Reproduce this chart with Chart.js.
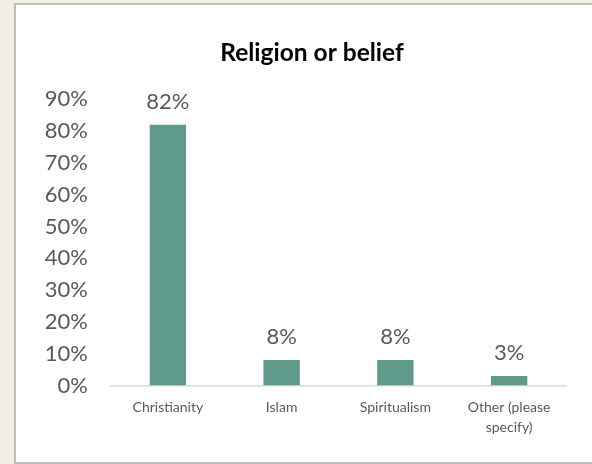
<!DOCTYPE html>
<html>
<head>
<meta charset="utf-8">
<script src="https://cdn.jsdelivr.net/npm/chart.js@4/dist/chart.umd.min.js"></script>
<style>
  html, body { margin: 0; padding: 0; width: 592px; height: 464px; overflow: hidden; background: #f4eee5; }
  #frame {
    position: absolute; left: 14px; top: 3px;
    width: 592px; height: 457px;
    border: 2px solid #bdbdbd;
    background: #fff;
  }
  #chart { display: block; }
</style>
</head>
<body>
<div id="frame"><canvas id="chart" width="592" height="457"></canvas></div>
<script>
const categories = ['Christianity', 'Islam', 'Spiritualism', ['Other (please', 'specify)']];
const shares = [82, 8, 8, 3];
const yTicks = [0, 10, 20, 30, 40, 50, 60, 70, 80, 90];

const barColor = '#5f9a8a';
const textColor = '#595959';
const fontFamily = 'Lato, "Open Sans", sans-serif';

// percentage labels above each bar
const valueLabels = {
  id: 'valueLabels',
  afterDatasetsDraw(chart) {
    const ctx = chart.ctx;
    const meta = chart.getDatasetMeta(0);
    ctx.save();
    ctx.font = '22px ' + fontFamily;
    ctx.fillStyle = textColor;
    ctx.textAlign = 'center';
    ctx.textBaseline = 'middle';
    meta.data.forEach((bar, i) => {
      ctx.fillText(shares[i] + '%', bar.x, bar.y - 23);
    });
    ctx.restore();
  }
};

new Chart(document.getElementById('chart'), {
  type: 'bar',
  data: {
    labels: categories,
    datasets: [{
      data: shares,
      backgroundColor: barColor,
      borderWidth: 0,
      categoryPercentage: 1,
      barPercentage: 0.32
    }]
  },
  options: {
    responsive: false,
    animation: false,
    layout: { padding: 0 },
    plugins: {
      legend: { display: false },
      tooltip: { enabled: false },
      title: {
        display: true,
        text: 'Religion or belief',
        color: '#000',
        font: { family: fontFamily, size: 24.5, weight: 'bold', lineHeight: 1.2 },
        padding: { top: 33, bottom: 32 }
      }
    },
    scales: {
      x: {
        grid: { display: false, drawTicks: false },
        border: { display: true, color: '#d9d9d9', width: 1.5 },
        ticks: {
          color: textColor,
          padding: 12,
          maxRotation: 0,
          autoSkip: false,
          font: { family: fontFamily, size: 14, lineHeight: 1.43 }
        },
        afterFit(scale) { scale.height = 76.5; }
      },
      y: {
        min: 0,
        max: 90,
        grid: { display: false, drawTicks: false },
        border: { display: false },
        afterBuildTicks(scale) { scale.ticks = yTicks.map(v => ({ value: v })); },
        ticks: {
          color: textColor,
          padding: 23,
          font: { family: fontFamily, size: 22 },
          callback: v => v + '%'
        },
        afterFit(scale) { scale.width = 95; }
      },
      // empty right-hand gutter so the title stays centred on the whole frame
      gutter: {
        type: 'linear',
        position: 'right',
        min: 0,
        max: 90,
        grid: { display: false, drawTicks: false },
        border: { display: false },
        ticks: { display: false },
        afterFit(scale) { scale.width = 42; }
      }
    }
  },
  plugins: [valueLabels]
});
</script>
</body>
</html>
